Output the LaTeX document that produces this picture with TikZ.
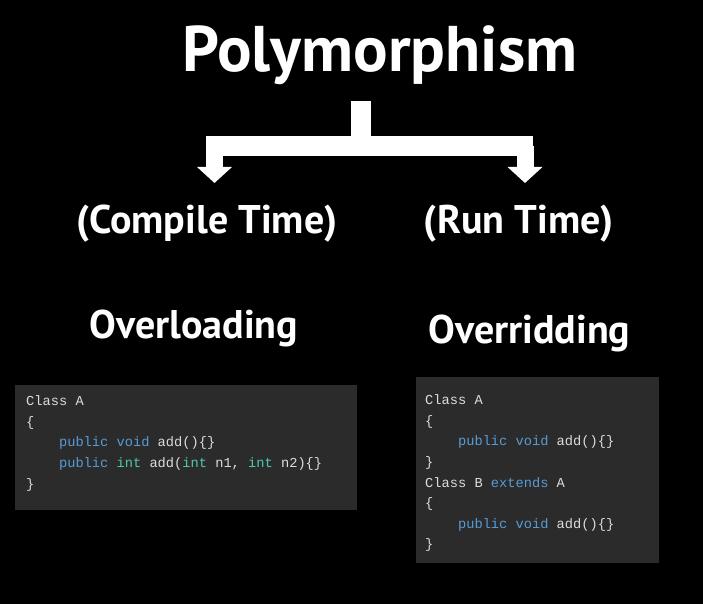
\documentclass[tikz,border=0pt]{standalone}
\usepackage{fontspec}
\setmainfont{PT Sans}
\newfontfamily\codefont{Liberation Mono}
\usetikzlibrary{arrows.meta,positioning}
\definecolor{panel}{HTML}{2B2B2B}
\definecolor{codefg}{HTML}{DCDCDC}
\definecolor{kwblue}{HTML}{569CD6}
\definecolor{kwteal}{HTML}{4EC9B0}
\newcommand{\kw}[1]{\textcolor{kwblue}{#1}}
\newcommand{\ty}[1]{\textcolor{kwteal}{#1}}
\newcommand{\ind}{\phantom{0000}}

\begin{document}
\begin{tikzpicture}[x=1pt,y=-1pt,>=Latex,
    head/.style={text=white,font=\bfseries,anchor=base,inner sep=0pt},
    panelbox/.style={fill=panel,anchor=north west,inner sep=0pt},
    code/.style={text=codefg,anchor=north west,align=left,inner sep=0pt,
      font=\codefont\fontsize{13.7}{20.6}\selectfont},
    bar/.style={draw=white,line width=20pt},
    arm/.style={draw=white,line width=17pt,-{Triangle[width=34pt,length=16pt]}}]
    \fill[black] (0,0) rectangle (703,604);
    \useasboundingbox (0,0) rectangle (703,604);
    % headings
    \node[head,font=\bfseries\fontsize{64.5}{64.5}\selectfont] (title) at (380,72) {Polymorphism};
    \node[head,font=\bfseries\fontsize{40}{40}\selectfont] (compile) at (207,233) {(Compile Time)};
    \node[head,font=\bfseries\fontsize{40}{40}\selectfont] (run) at (518.5,233) {(Run Time)};
    \node[head,font=\bfseries\fontsize{40}{40}\selectfont] (overload) at (194,338) {Overloading};
    \node[head,font=\bfseries\fontsize{40}{40}\selectfont] (override) at (529.5,343) {Overridding};
    % fork arrow
    \coordinate (stemtop) at (361,101);
    \coordinate (fork) at (361,146);
    \coordinate (lend) at (206,146);
    \coordinate (rend) at (533,146);
    \coordinate (lroot) at (214.5,146);
    \coordinate (rroot) at (525,146);
    \coordinate (ltip) at (214.5,183);
    \coordinate (rtip) at (525,183);
    \draw[bar] (stemtop) -- (fork);
    \draw[bar] (lend) -- (rend);
    \draw[arm] (lroot) -- (ltip);
    \draw[arm] (rroot) -- (rtip);
    % code panels
    \node[panelbox,minimum width=342pt,minimum height=125pt] (panelA) at (15,385) {};
    \node[panelbox,minimum width=243pt,minimum height=186pt] (panelB) at (416,377) {};
    \node[code] (codeA) at (26,395.5) {Class A\\
      \{\\
      \ind\kw{public} \kw{void} add()\{\}\\
      \ind\kw{public} \ty{int} add(\ty{int} n1, \ty{int} n2)\{\}\\
      \}};
    \node[code] (codeB) at (425,394.5) {Class A\\
      \{\\
      \ind\kw{public} \kw{void} add()\{\}\\
      \}\\
      Class B \kw{extends} A\\
      \{\\
      \ind\kw{public} \kw{void} add()\{\}\\
      \}};
  \end{tikzpicture}
\end{document}
